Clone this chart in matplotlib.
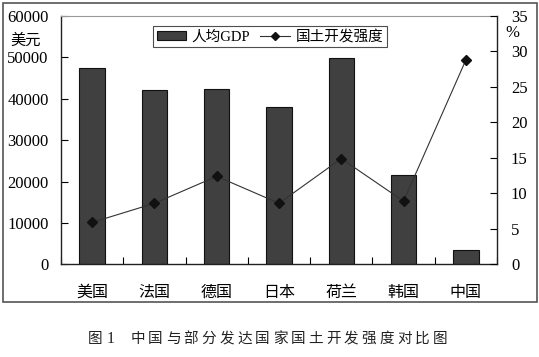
import numpy as np
import matplotlib
matplotlib.use("Agg")
from matplotlib import pyplot as plt
from matplotlib.patches import Patch, Rectangle
from matplotlib.lines import Line2D

countries = ["美国", "法国", "德国", "日本", "荷兰", "韩国", "中国"]
gdp_per_capita = [47400, 42100, 42400, 38000, 49900, 21600, 3400]
land_dev_pct = [5.9, 8.6, 12.4, 8.6, 14.9, 8.9, 28.8]
left_ticks = [0, 10000, 20000, 30000, 40000, 50000, 60000]
right_ticks = [0, 5, 10, 15, 20, 25, 30, 35]
caption = "中国与部分发达国家国土开发强度对比图"

W, H = 539, 357
serif = ["Liberation Serif", "Noto Sans CJK SC"]
cjk = ["Noto Sans CJK SC", "DejaVu Sans"]

fig = plt.figure(figsize=(W / 100, H / 100), dpi=100)
fig.patch.set_facecolor("white")

# outer frame around the chart
fig.patches.append(Rectangle((3 / W, 1 - 302 / H), 534 / W, 299 / H,
                             transform=fig.transFigure, fill=False,
                             edgecolor="#555555", linewidth=1.2))

ax = fig.add_axes([61 / W, 1 - 264.3 / H, 436 / W, 248.3 / H])
x = np.arange(len(countries))
ax.bar(x, gdp_per_capita, width=0.41, color="#404040", edgecolor="#111111",
       linewidth=0.8, zorder=2)
ax.set_xlim(-0.5, len(countries) - 0.5)
ax.set_ylim(0, 60000)
ax.set_yticks(left_ticks)
ax.set_yticklabels([str(v) for v in left_ticks], family=serif, fontsize=12)
ax.set_xticks(x)
ax.set_xticklabels(countries, family=cjk, fontsize=11.5)
ax.set_xticks(np.arange(len(countries) + 1) - 0.5, minor=True)
ax.tick_params(axis="x", which="major", length=0, pad=14)
ax.tick_params(axis="x", which="minor", direction="in", length=5, width=0.8)
ax.tick_params(axis="y", direction="in", length=5, width=0.8, pad=9)
for s in ["left", "bottom"]:
    ax.spines[s].set_color("#222222")
    ax.spines[s].set_linewidth(1.0)
ax.spines["top"].set_color("#999999")
ax.spines["top"].set_linewidth(0.8)
ax.spines["right"].set_visible(False)

ax2 = ax.twinx()
ax2.plot(x, land_dev_pct, color="#333333", linewidth=0.8, marker="D",
         markersize=5, markerfacecolor="#111111", markeredgecolor="#111111", zorder=3)
ax2.set_ylim(0, 35)
ax2.set_yticks(right_ticks)
ax2.set_yticklabels([str(v) for v in right_ticks], family=serif, fontsize=12)
ax2.tick_params(axis="y", direction="in", length=5, width=0.8, pad=10)
ax2.spines["right"].set_color("#222222")
ax2.spines["right"].set_linewidth(1.0)
for s in ["top", "left", "bottom"]:
    ax2.spines[s].set_visible(False)

handles = [Patch(facecolor="#404040", edgecolor="#111111", linewidth=0.8),
           Line2D([], [], color="#333333", linewidth=0.8, marker="D",
                  markersize=4, markerfacecolor="#111111", markeredgecolor="#111111")]
leg = fig.legend(handles, ["人均GDP", "国土开发强度"], loc="upper left",
                 bbox_to_anchor=(153 / W, 1 - 26 / H), bbox_transform=fig.transFigure,
                 ncol=2, frameon=True, fancybox=False, borderaxespad=0,
                 prop={"family": serif, "size": 10.5}, handlelength=2.0,
                 handleheight=0.5, handletextpad=0.4, columnspacing=0.7,
                 borderpad=0.25)
leg.get_frame().set_edgecolor("#222222")
leg.get_frame().set_linewidth(0.8)

fig.text(10 / W, 1 - 40 / H, "美元", family=cjk, fontsize=11, ha="left", va="center")
fig.text(512 / W, 1 - 33 / H, "%", family=serif, fontsize=12, ha="center", va="center")

# caption with wide character spacing
cap_y = 1 - 339 / H
fig.text(95 / W, cap_y, "图", family=cjk, fontsize=10.5, ha="center", va="center", color="#222222")
fig.text(110.5 / W, cap_y, "1", family=serif, fontsize=11.5, ha="center", va="center", color="#222222")
for i, ch in enumerate(caption):
    fig.text((137.5 + i * 17.8) / W, cap_y, ch, family=cjk, fontsize=10.5,
             ha="center", va="center", color="#222222")

fig.savefig("out.png", dpi=100)
